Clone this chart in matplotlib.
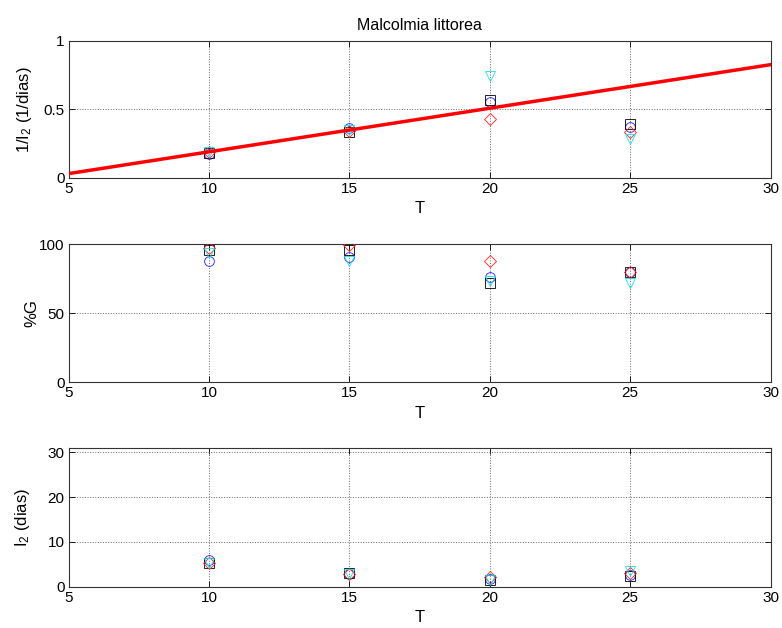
import matplotlib
matplotlib.use("Agg")
import matplotlib.pyplot as plt
import numpy as np

plt.rcParams['font.family'] = ['Liberation Sans', 'DejaVu Sans']
plt.rcParams['mathtext.fontset'] = 'custom'
plt.rcParams['mathtext.rm'] = 'Liberation Sans'
plt.rcParams['mathtext.it'] = 'Liberation Sans'

T = [10, 15, 20, 25]

# 1/I2 (1/dias)
inv_circle = [0.17, 0.36, 0.55, 0.37]
inv_square = [0.18, 0.33, 0.57, 0.39]
inv_diamond = [0.19, 0.34, 0.43, 0.33]
inv_tri = [0.19, 0.35, 0.74, 0.28]

# %G
g_circle = [88, 91, 76, 80]
g_square = [96, 96, 72, 80]
g_diamond = [97, 99.5, 88, 80]
g_tri = [94, 88, 73, 72]

# I2 (dias)
i2_circle = [5.9, 2.8, 1.8, 2.7]
i2_square = [5.2, 3.0, 1.6, 2.5]
i2_diamond = [5.4, 2.9, 2.2, 3.0]
i2_tri = [5.3, 2.9, 1.4, 3.6]

# linear fit of 1/I2 vs T
fit_intercept = -0.129
fit_slope = 0.0318
fit_T = [5, 30]

series_style = [
    dict(marker='o', color='#2020ff'),
    dict(marker='s', color='#000000'),
    dict(marker='D', color='#ff2020'),
    dict(marker='v', color='#20dede'),
]

fig = plt.figure(figsize=(7.82, 6.28), dpi=100)
L, W = 68.7/782, 701.9/782
ax1 = fig.add_axes([L, 1-177.7/628, W, 137/628])
ax2 = fig.add_axes([L, 1-382/628, W, 137.7/628])
ax3 = fig.add_axes([L, 1-586.7/628, W, 138.7/628])

def draw(ax, sets, ylim, yticks, ylabel, label_right_px):
    for vals, st in zip(sets, series_style):
        ms = 7 if st['marker'] != 'D' else 6
        ax.plot(T, vals, linestyle='none', marker=st['marker'], markersize=ms,
                markerfacecolor='none', markeredgecolor=st['color'],
                markeredgewidth=0.6, zorder=3)
    ax.set_xlim(5, 30)
    ax.set_ylim(*ylim)
    ax.set_xticks([5, 10, 15, 20, 25, 30])
    ax.set_yticks(yticks)
    ax.grid(True, linestyle=':', color='#666666', linewidth=0.7)
    ax.tick_params(direction='in', labelsize=11, length=4, width=0.6,
                   top=True, right=True, pad=3)
    for s in ax.spines.values():
        s.set_linewidth(0.8)
        s.set_color('#333333')
    ax.set_xlabel('T', fontsize=12, labelpad=4)
    ax.set_ylabel(ylabel, fontsize=12)
    ax.yaxis.set_label_coords((label_right_px - 68.7) / 701.9, 0.5)

draw(ax1, [inv_circle, inv_square, inv_diamond, inv_tri], (0, 1), [0, 0.5, 1],
     '1/I$_2$ (1/dias)', 34)
ax1.set_yticklabels(['0', '0.5', '1'])
fx = np.array(fit_T, dtype=float)
ax1.plot(fx, fit_intercept + fit_slope*fx, color='#ff0000', linewidth=2.5, zorder=4)
ax1.set_title('Malcolmia littorea', fontsize=11.5, pad=8)

draw(ax2, [g_circle, g_square, g_diamond, g_tri], (0, 100), [0, 50, 100], '%G', 39)
draw(ax3, [i2_circle, i2_square, i2_diamond, i2_tri], (0, 31), [0, 10, 20, 30],
     'I$_2$ (dias)', 32)

fig.savefig('out.png', dpi=100)
